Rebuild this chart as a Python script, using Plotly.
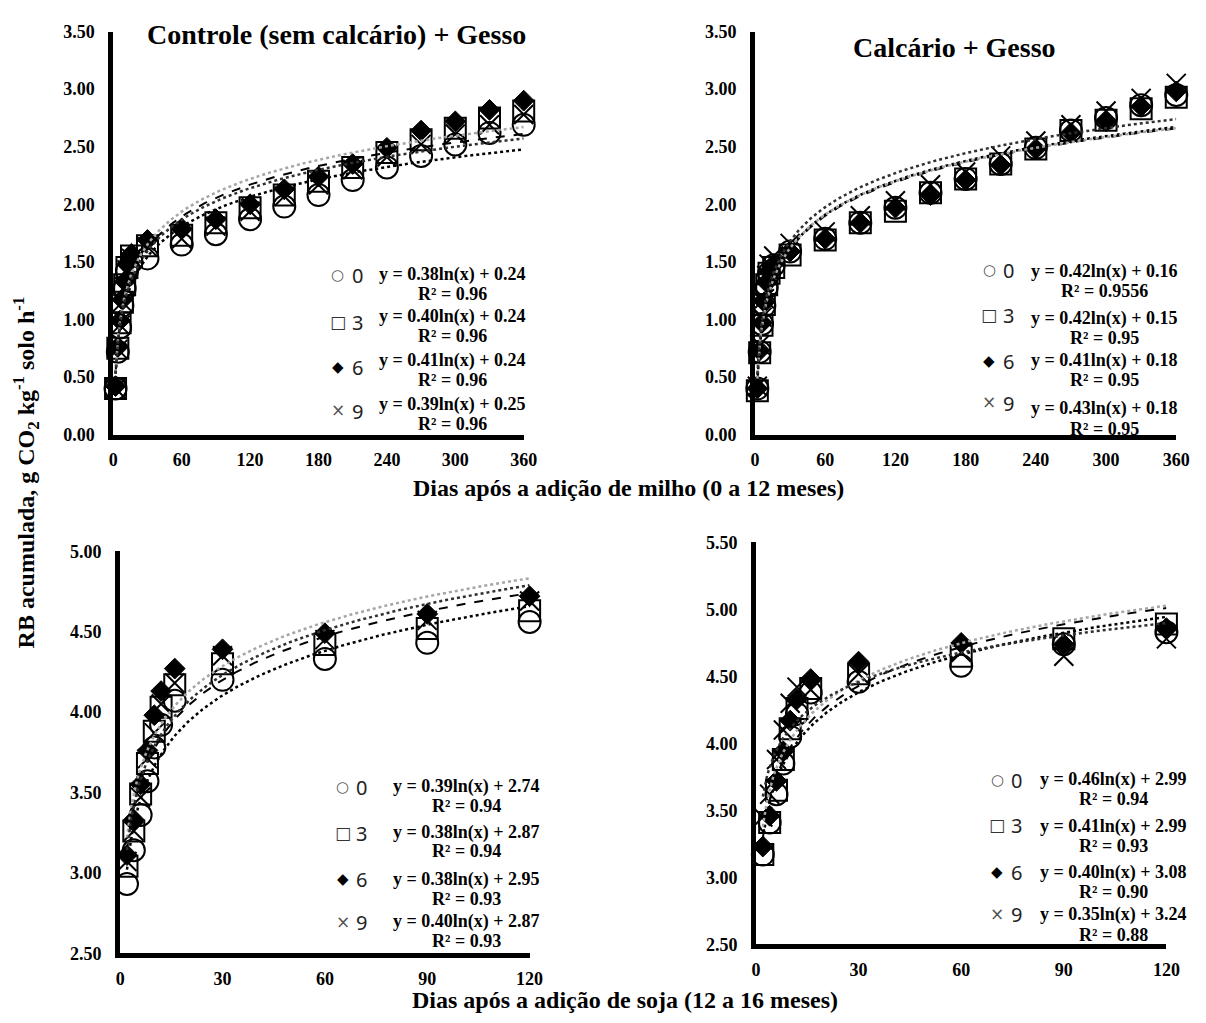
import numpy as np
import plotly.graph_objects as go

W, H = 1206, 1023

# ---------------- data ----------------
days_milho = [2, 4, 6, 8, 10, 12, 16, 30, 60, 90, 120, 150, 180, 210, 240, 270, 300, 330, 360]
days_soja = [2, 4, 6, 8, 10, 12, 16, 30, 60, 90, 120]
doses = ["0", "3", "6", "9"]

# Controle (sem calcário) + Gesso, milho
ctrl_milho_0 = [0.40, 0.72, 0.93, 1.12, 1.27, 1.42, 1.50, 1.53, 1.65, 1.74, 1.87, 1.98, 2.08, 2.21, 2.32, 2.42, 2.52, 2.62, 2.69]
ctrl_milho_3 = [0.40, 0.75, 0.97, 1.15, 1.30, 1.45, 1.55, 1.64, 1.73, 1.84, 1.97, 2.08, 2.20, 2.32, 2.45, 2.56, 2.66, 2.75, 2.81]
ctrl_milho_6 = [0.42, 0.76, 0.99, 1.17, 1.33, 1.48, 1.57, 1.69, 1.79, 1.87, 2.00, 2.13, 2.24, 2.35, 2.49, 2.64, 2.72, 2.82, 2.90]
ctrl_milho_9 = [0.40, 0.74, 0.95, 1.15, 1.28, 1.43, 1.53, 1.63, 1.70, 1.81, 1.94, 2.07, 2.17, 2.30, 2.41, 2.52, 2.61, 2.69, 2.78]

# Calcário + Gesso, milho
calc_milho_0 = [0.40, 0.72, 0.96, 1.12, 1.28, 1.40, 1.47, 1.59, 1.70, 1.84, 1.97, 2.10, 2.22, 2.35, 2.49, 2.64, 2.75, 2.86, 2.95]
calc_milho_3 = [0.38, 0.71, 0.95, 1.13, 1.30, 1.40, 1.45, 1.56, 1.69, 1.84, 1.94, 2.10, 2.22, 2.35, 2.48, 2.64, 2.73, 2.83, 2.93]
calc_milho_6 = [0.40, 0.73, 0.97, 1.15, 1.32, 1.42, 1.48, 1.59, 1.70, 1.84, 1.97, 2.08, 2.21, 2.34, 2.48, 2.62, 2.72, 2.85, 2.98]
calc_milho_9 = [0.42, 0.78, 1.02, 1.18, 1.38, 1.48, 1.55, 1.66, 1.76, 1.90, 2.03, 2.17, 2.28, 2.42, 2.55, 2.69, 2.81, 2.92, 3.05]

# Controle + Gesso, soja
ctrl_soja_0 = [2.93, 3.14, 3.36, 3.57, 3.78, 3.92, 4.07, 4.20, 4.33, 4.43, 4.56]
ctrl_soja_3 = [3.04, 3.26, 3.49, 3.68, 3.88, 4.03, 4.17, 4.30, 4.42, 4.52, 4.63]
ctrl_soja_6 = [3.11, 3.33, 3.55, 3.76, 3.98, 4.13, 4.27, 4.39, 4.49, 4.61, 4.72]
ctrl_soja_9 = [3.07, 3.26, 3.47, 3.71, 3.87, 4.05, 4.18, 4.35, 4.45, 4.57, 4.69]

# Calcário + Gesso, soja
calc_soja_0 = [3.17, 3.41, 3.62, 3.85, 4.05, 4.22, 4.38, 4.46, 4.58, 4.74, 4.83]
calc_soja_3 = [3.17, 3.41, 3.65, 3.88, 4.11, 4.26, 4.41, 4.52, 4.65, 4.78, 4.89]
calc_soja_6 = [3.23, 3.46, 3.72, 3.94, 4.17, 4.33, 4.48, 4.61, 4.75, 4.74, 4.86]
calc_soja_9 = [3.45, 3.62, 3.88, 4.10, 4.30, 4.42, 4.40, 4.52, 4.68, 4.65, 4.78]

eq_ctrl_milho = ["y = 0.38ln(x) + 0.24", "y = 0.40ln(x) + 0.24", "y = 0.41ln(x) + 0.24", "y = 0.39ln(x) + 0.25"]
r2_ctrl_milho = ["R² = 0.96", "R² = 0.96", "R² = 0.96", "R² = 0.96"]
eq_calc_milho = ["y = 0.42ln(x) + 0.16", "y = 0.42ln(x) + 0.15", "y = 0.41ln(x) + 0.18", "y = 0.43ln(x) + 0.18"]
r2_calc_milho = ["R² = 0.9556", "R² = 0.95", "R² = 0.95", "R² = 0.95"]
eq_ctrl_soja = ["y = 0.39ln(x) + 2.74", "y = 0.38ln(x) + 2.87", "y = 0.38ln(x) + 2.95", "y = 0.40ln(x) + 2.87"]
r2_ctrl_soja = ["R² = 0.94", "R² = 0.94", "R² = 0.93", "R² = 0.93"]
eq_calc_soja = ["y = 0.46ln(x) + 2.99", "y = 0.41ln(x) + 2.99", "y = 0.40ln(x) + 3.08", "y = 0.35ln(x) + 3.24"]
r2_calc_soja = ["R² = 0.94", "R² = 0.93", "R² = 0.90", "R² = 0.88"]

title_ctrl = "Controle (sem calcário) + Gesso"
title_calc = "Calcário + Gesso"
xtitle_milho = "Dias após a adição de milho (0 a 12 meses)"
xtitle_soja = "Dias após a adição de soja (12 a 16 meses)"
ytitle = "RB acumulada, g CO<sub>2</sub> kg<sup>-1</sup> solo h<sup>-1</sup>"

# ---------------- styles ----------------
SERIF = "Liberation Serif"
# per series: 0 circle, 3 square, 6 diamond, 9 x
marker_styles = [
    dict(symbol="circle-open", size=22, color="black", line=dict(color="black", width=2)),
    dict(symbol="square-open", size=21, color="black", line=dict(color="black", width=2)),
    dict(symbol="diamond", size=16, color="black", line=dict(color="black", width=1)),
    dict(symbol="x-thin-open", size=19, color="black", line=dict(color="black", width=2)),
]
draw_order = [0, 1, 3, 2]  # circle, square, x, diamond (diamond on top)
trend_styles = [
    dict(color="black", width=2.5, dash="dot"),
    dict(color="black", width=2, dash="dash"),
    dict(color="#a6a6a6", width=2.5, dash="dot"),
    dict(color="#303030", width=2.5, dash="dot"),
]

def px2x(px):
    return px / W

def px2y(py):
    return 1 - py / H

panels = [
    dict(x=days_milho, ys=[ctrl_milho_0, ctrl_milho_3, ctrl_milho_6, ctrl_milho_9],
         dom_x=(110, 527), dom_y=(22, 433), xr=[0, 360], yr=[0, 3.5], xd=60, yd=0.5),
    dict(x=days_milho, ys=[calc_milho_0, calc_milho_3, calc_milho_6, calc_milho_9],
         dom_x=(762, 1190), dom_y=(22, 433), xr=[0, 360], yr=[0, 3.5], xd=60, yd=0.5),
    dict(x=days_soja, ys=[ctrl_soja_0, ctrl_soja_3, ctrl_soja_6, ctrl_soja_9],
         dom_x=(117, 533), dom_y=(552, 962), xr=[0, 120], yr=[2.5, 5.0], xd=30, yd=0.5),
    dict(x=days_soja, ys=[calc_soja_0, calc_soja_3, calc_soja_6, calc_soja_9],
         dom_x=(763, 1180), dom_y=(543, 953), xr=[0, 120], yr=[2.5, 5.5], xd=30, yd=0.5),
]

fig = go.Figure()
layout = dict(width=W, height=H, margin=dict(l=0, r=0, t=0, b=0),
              paper_bgcolor="white", plot_bgcolor="white", showlegend=False)

tickfont = dict(family=SERIF, size=18, color="black", weight="bold")

for i, p in enumerate(panels, start=1):
    xa = "x" if i == 1 else f"x{i}"
    ya = "y" if i == 1 else f"y{i}"
    xkey = "xaxis" if i == 1 else f"xaxis{i}"
    ykey = "yaxis" if i == 1 else f"yaxis{i}"
    layout[xkey] = dict(domain=[px2x(p["dom_x"][0]), px2x(p["dom_x"][1])], range=p["xr"],
                        anchor=ya, dtick=p["xd"], tick0=0, showline=True, linecolor="black",
                        linewidth=5, ticks="", showgrid=False, zeroline=False,
                        tickfont=tickfont, ticklabelstandoff=5)
    layout[ykey] = dict(domain=[px2y(p["dom_y"][1]), px2y(p["dom_y"][0])], range=p["yr"],
                        anchor=xa, dtick=p["yd"], tick0=0, showline=True, linecolor="black",
                        linewidth=5, ticks="", showgrid=False, zeroline=False,
                        tickformat=".2f", tickfont=tickfont, ticklabelstandoff=10)
    x = np.array(p["x"], dtype=float)
    for k in draw_order:
        fig.add_trace(go.Scatter(x=p["x"], y=p["ys"][k], mode="markers", xaxis=xa, yaxis=ya,
                                 marker=marker_styles[k], cliponaxis=False, name=doses[k]))
    for k in range(4):
        a, b = np.polyfit(np.log(x), np.array(p["ys"][k]), 1)
        xs = np.linspace(x.min(), x.max(), 300)
        fig.add_trace(go.Scatter(x=xs, y=a * np.log(xs) + b, mode="lines", xaxis=xa, yaxis=ya,
                                 line=trend_styles[k], hoverinfo="skip", cliponaxis=False))

annotations = []

def ann(text, px, py, size, family=SERIF, weight="bold", color="black", angle=0, xanchor="center"):
    annotations.append(dict(text=text, x=px2x(px), y=px2y(py), xref="paper", yref="paper",
                            showarrow=False, xanchor=xanchor, yanchor="middle", textangle=angle,
                            font=dict(family=family, size=size, color=color, weight=weight)))

ann(title_ctrl, 337, 25, 28)
ann(title_calc, 965, 38, 28)
ann(xtitle_milho, 633, 488, 24)
ann(xtitle_soja, 630, 1010, 24)
ann(ytitle, 21, 472, 24, angle=-90)

sym_text = ["○", "□", "◆", "×"]
sym_color = ["#555555", "#333333", "black", "#555555"]
sym_size = [15, 17, 15, 17]

legend_pos = [
    dict(eqs=eq_ctrl_milho, r2=r2_ctrl_milho, sx=338, nx=358, ex=455,
         ey=[270, 313, 357, 402], ry=[290, 333, 377, 422], sy=[270, 318, 364, 408]),
    dict(eqs=eq_calc_milho, r2=r2_calc_milho, sx=1000, nx=1020, ex=1117,
         ey=[267, 315, 357, 406], ry=[287, 335, 377, 427], sy=[265, 311, 358, 400]),
    dict(eqs=eq_ctrl_soja, r2=r2_ctrl_soja, sx=343, nx=362, ex=469,
         ey=[792, 839, 887, 930], ry=[812, 858, 907, 950], sy=[792, 839, 886, 930]),
    dict(eqs=eq_calc_soja, r2=r2_calc_soja, sx=1008, nx=1028, ex=1126,
         ey=[785, 833, 880, 923], ry=[805, 853, 900, 943], sy=[785, 831, 879, 922]),
]

for L in legend_pos:
    for k in range(4):
        ann(sym_text[k], L["sx"], L["sy"][k], sym_size[k], family="DejaVu Sans", weight="normal",
            color=sym_color[k])
        ann(doses[k], L["nx"], L["sy"][k] + 1, 20, family="Noto Sans", weight="normal", color="#222222")
        ann(L["eqs"][k], L["ex"], L["ey"][k], 18)
        ann(L["r2"][k], L["ex"], L["ry"][k], 18)

layout["annotations"] = annotations
fig.update_layout(**layout)
fig.write_html("out.html")
